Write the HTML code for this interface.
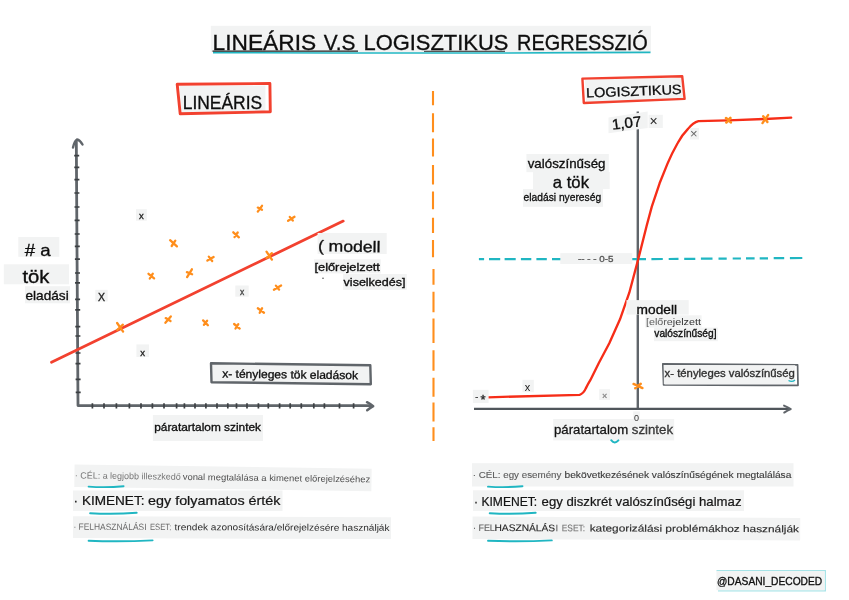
<!DOCTYPE html>
<html lang="hu"><head><meta charset="utf-8"><title>Lineáris v.s logisztikus regresszió</title>
<style>
html,body{margin:0;padding:0;background:#fff;}
body{width:849px;height:600px;overflow:hidden;position:relative;}
svg{position:absolute;left:0;top:0;display:block;}
text{font-family:"Liberation Sans",sans-serif;fill:#0e0e0e;stroke:#0e0e0e;stroke-width:0.32px;}
.bg{fill:#f2f3f3;}
</style></head><body>
<svg width="849" height="600" viewBox="0 0 849 600">
<rect class="bg" x="210.8" y="25.8" width="440.2" height="26.4" />
<text font-size="22" y="50.1"><tspan x="212.6" textLength="103.5" lengthAdjust="spacingAndGlyphs">LINEÁRIS</tspan> <tspan x="323.7" textLength="31.7" lengthAdjust="spacingAndGlyphs">V.S</tspan> <tspan x="363.5" textLength="144.9" lengthAdjust="spacingAndGlyphs">LOGISZTIKUS</tspan> <tspan x="517.1" textLength="130.6" lengthAdjust="spacingAndGlyphs">REGRESSZIÓ</tspan></text>
<path d="M213 52.6Q430 53.6 650.5 52.4" stroke="#20b6c2" stroke-width="1.6" fill="none"/>
<path d="M212.5 51.1H358M424 51.2H505" stroke="#222" stroke-width="1.05"/>
<path d="M433.0 91.0V105.3M433.0 113.2V132.2M433.0 138.6V156.6M433.0 164.9V184.5M433.0 191.5V209.2M433.0 217.7V233.0M433.0 240.0V257.3M433.5 268.9V284.7M433.5 291.7V312.2M433.5 318.6V343.0M433.5 350.2V370.8M433.5 377.8V396.8M433.5 402.5V421.5M433.5 427.2V441.1" stroke="#ff8e1c" stroke-width="2.1" fill="none"/>
<path d="M179.4 86L265.4 85.6V112.3L181.5 112.8Z" fill="#f2f3f3"/>
<path d="M177.2 84.3L269.9 83.5L270.3 111.8L180.2 113.8Z" fill="none" stroke="#f2412f" stroke-width="2.9" stroke-linejoin="round"/>
<text x="182.7" y="108.5" font-size="18" textLength="79.5" lengthAdjust="spacingAndGlyphs" >LINEÁRIS</text>
<path d="M73 147.5Q74.5 141 77 139.5Q80 140 82.5 144.5" stroke="#60656a" stroke-width="2.4" fill="none" stroke-linecap="round"/>
<path d="M76.3 140L78 405.6H372" stroke="#60656a" stroke-width="2.8" fill="none" stroke-linejoin="round"/>
<path d="M367 402.2Q370.5 404 373.2 406.2Q370.5 407.8 367.2 410.2" stroke="#60656a" stroke-width="2.5" fill="none" stroke-linecap="round" stroke-linejoin="round"/>
<path d="M74.2 155.6h5M74.3 167.4h5M74.4 179.6h5M74.4 193.0h5M74.5 207.0h5M74.6 220.4h5M74.7 234.0h5M74.8 246.4h5M74.9 259.2h5M75.0 273.0h5M75.0 282.8h5M75.1 299.3h5M75.2 309.8h5M75.3 326.6h5M75.4 336.0h5M75.5 353.0h5M75.5 363.6h5M75.6 379.4h5M75.7 392.4h5" stroke="#3c4043" stroke-width="1.7"/>
<path d="M92.4 403.2v5.4M104.0 403.2v5.4M116.4 403.2v5.4M129.4 403.2v5.4M141.0 403.2v5.4M152.4 403.2v5.4M164.0 403.2v5.4M176.6 403.2v5.4M184.4 403.2v5.4M195.0 403.2v5.4M205.9 403.2v5.4M217.0 403.2v5.4M227.8 403.2v5.4M236.5 403.2v5.4M247.0 403.2v5.4M258.4 403.2v5.4M268.3 403.2v5.4M279.6 403.2v5.4M290.2 403.2v5.4M301.3 403.2v5.4M313.8 403.2v5.4M324.4 403.2v5.4M339.5 403.2v5.4M353.6 403.2v5.4" stroke="#3c4043" stroke-width="1.7"/>
<path d="M51.5 362.2L343.2 221.1" stroke="#f2412f" stroke-width="2.8" stroke-linecap="round"/>
<path d="M257.8 211.6L262.0 205.8M257.8 207.6L262.0 209.8" stroke="#ff8e1c" stroke-width="2.3" stroke-linecap="round" fill="none"/>
<path d="M288.1 220.8L294.5 216.8M289.8 217.0L292.8 220.6" stroke="#ff8e1c" stroke-width="2.3" stroke-linecap="round" fill="none"/>
<path d="M233.3 232.3L238.9 237.3M237.7 232.5L234.5 237.1" stroke="#ff8e1c" stroke-width="2.3" stroke-linecap="round" fill="none"/>
<path d="M170.1 240.2L176.9 246.4M175.3 240.6L171.7 246.0" stroke="#ff8e1c" stroke-width="2.3" stroke-linecap="round" fill="none"/>
<path d="M207.4 260.6L213.6 257.0M208.8 256.6L212.2 261.0" stroke="#ff8e1c" stroke-width="2.3" stroke-linecap="round" fill="none"/>
<path d="M266.5 251.6L271.9 259.6M271.9 253.2L266.5 258.0" stroke="#ff8e1c" stroke-width="2.3" stroke-linecap="round" fill="none"/>
<path d="M187.1 277.1L191.9 269.3M186.9 272.1L192.1 274.3" stroke="#ff8e1c" stroke-width="2.3" stroke-linecap="round" fill="none"/>
<path d="M148.5 273.8L154.1 278.4M152.8 273.7L149.8 278.5" stroke="#ff8e1c" stroke-width="2.3" stroke-linecap="round" fill="none"/>
<path d="M273.9 289.7L281.1 285.5M275.9 285.6L279.1 289.6" stroke="#ff8e1c" stroke-width="2.3" stroke-linecap="round" fill="none"/>
<path d="M257.8 308.3L264.0 312.7M262.1 308.2L259.7 312.8" stroke="#ff8e1c" stroke-width="2.3" stroke-linecap="round" fill="none"/>
<path d="M165.4 322.8L170.8 316.4M165.7 318.1L170.5 321.1" stroke="#ff8e1c" stroke-width="2.3" stroke-linecap="round" fill="none"/>
<path d="M203.1 320.4L207.9 325.2M207.1 320.7L203.9 324.9" stroke="#ff8e1c" stroke-width="2.3" stroke-linecap="round" fill="none"/>
<path d="M234.1 324.0L239.7 328.6M238.3 324.1L235.5 328.5" stroke="#ff8e1c" stroke-width="2.3" stroke-linecap="round" fill="none"/>
<path d="M117.1 323.0L123.1 331.6M122.9 324.7L117.3 329.9" stroke="#ff8e1c" stroke-width="2.3" stroke-linecap="round" fill="none"/>
<rect x="136.0" y="209.2" width="10.8" height="11.5" fill="#f2f3f3"/>
<text x="141.4" y="219.3" font-size="9.5" text-anchor="middle" style="fill:#222;stroke:#222">x</text>
<rect x="95.3" y="289.8" width="12.4" height="11.7" fill="#f2f3f3"/>
<text x="101.5" y="300.6" font-size="10.5" text-anchor="middle" style="fill:#222;stroke:#222">X</text>
<rect x="235.3" y="285.5" width="13.4" height="11.2" fill="#f2f3f3"/>
<text x="242.0" y="294.9" font-size="8.5" text-anchor="middle" style="fill:#444;stroke:#444">x</text>
<rect x="136.4" y="344.4" width="12.6" height="12.6" fill="#f2f3f3"/>
<text x="142.7" y="355.6" font-size="9.5" text-anchor="middle" style="fill:#222;stroke:#222">x</text>
<rect class="bg" x="18.3" y="237.0" width="41.0" height="19.8" />
<text x="24.8" y="255.6" font-size="16.5" textLength="25.9" lengthAdjust="spacingAndGlyphs" ># a</text>
<rect class="bg" x="3.8" y="264.3" width="65.2" height="20.0" />
<text x="22.5" y="282.8" font-size="17.5" textLength="27.0" lengthAdjust="spacingAndGlyphs" >tök</text>
<rect class="bg" x="25.0" y="286.2" width="45.0" height="17.1" />
<text x="25.5" y="300.0" font-size="13" textLength="43.2" lengthAdjust="spacingAndGlyphs" >eladási</text>
<rect class="bg" x="317.6" y="233.0" width="69.1" height="21.0" />
<text x="317.9" y="251.2" font-size="15.6" textLength="62.5" lengthAdjust="spacingAndGlyphs" transform="rotate(1.0 317.9 251.2)" >( modell</text>
<rect class="bg" x="314.0" y="259.3" width="66.8" height="14.1" />
<text x="314.5" y="270.6" font-size="10.8" textLength="65.4" lengthAdjust="spacingAndGlyphs" >[előrejelzett</text>
<rect class="bg" x="343.0" y="274.0" width="63.8" height="15.9" />
<text x="343.6" y="286.4" font-size="10.8" textLength="61.9" lengthAdjust="spacingAndGlyphs" >viselkedés]</text>
<circle cx="323" cy="278.3" r="0.7" fill="#333"/>
<path d="M211 363.3L370.3 365.2L370.8 384.3L211.5 382.2Z" fill="#f2f3f3" stroke="#60656a" stroke-width="2.4" stroke-linejoin="round"/>
<text x="222.2" y="377.6" font-size="11.5" textLength="135.8" lengthAdjust="spacingAndGlyphs" transform="rotate(0.7 222.2 377.6)" >x- tényleges tök eladások</text>
<rect class="bg" x="152.9" y="415.0" width="110.1" height="26.0" />
<text x="154.2" y="431.0" font-size="11.2" textLength="106.8" lengthAdjust="spacingAndGlyphs" >páratartalom szintek</text>
<g transform="rotate(0.8 74 478)">
<rect class="bg" x="74.4" y="464.5" width="297.1" height="22.5" />
<text font-size="9" y="478.3" ><tspan x="74.8" textLength="106.0" lengthAdjust="spacingAndGlyphs" style="fill:#757575;stroke:#757575;stroke-width:0px">· CÉL: a legjobb illeszkedő</tspan> <tspan x="182.7" textLength="187.6" lengthAdjust="spacingAndGlyphs" style="fill:#505050;stroke:#505050;stroke-width:0px">vonal megtalálása a kimenet előrejelzéséhez</tspan></text>
</g>
<rect class="bg" x="73.0" y="490.5" width="209.5" height="20.5" />
<text font-size="12.8" y="505.3" ><tspan x="73.6" textLength="70.9" lengthAdjust="spacingAndGlyphs" style="fill:#141414;stroke:#141414;stroke-width:0.22px">· KIMENET:</tspan> <tspan x="148.0" textLength="132.5" lengthAdjust="spacingAndGlyphs" style="fill:#161616;stroke:#161616;stroke-width:0.22px">egy folyamatos érték</tspan></text>
<g transform="rotate(0.2 73 530)">
<rect class="bg" x="73.0" y="516.2" width="318.0" height="21.8" />
<text font-size="9.2" y="529.8" ><tspan x="73.4" textLength="73.1" lengthAdjust="spacingAndGlyphs" style="fill:#6a6a6a;stroke:#6a6a6a;stroke-width:0px">· FELHASZNÁLÁSI</tspan> <tspan x="150.0" textLength="21.3" lengthAdjust="spacingAndGlyphs" style="fill:#6a6a6a;stroke:#6a6a6a;stroke-width:0px">ESET:</tspan> <tspan x="174.5" textLength="215.0" lengthAdjust="spacingAndGlyphs" style="fill:#2a2a2a;stroke:#2a2a2a;stroke-width:0px">trendek azonosítására/előrejelzésére használják</tspan></text>
</g>
<path d="M88.6 486.6Q106.1 487.8 123.6 486.20000000000005" stroke="#20b6c2" stroke-width="1.9" fill="none" stroke-linecap="round"/>
<path d="M90.1 513.2Q113.39999999999999 514.4000000000001 136.7 512.8000000000001" stroke="#20b6c2" stroke-width="1.9" fill="none" stroke-linecap="round"/>
<path d="M88.6 540.8Q120.6 542.0 152.6 540.4" stroke="#20b6c2" stroke-width="1.9" fill="none" stroke-linecap="round"/>
<path d="M585 79.8L683 77.2L684.6 98.6L586 102.4Z" fill="#f2f3f3"/>
<path d="M582.4 78.6L682.2 76.2L684.6 98.9L583.8 103Z" fill="none" stroke="#f2412f" stroke-width="2.4" stroke-linejoin="round"/>
<text x="586.3" y="97.6" font-size="13.5" textLength="95.5" lengthAdjust="spacingAndGlyphs" transform="rotate(-2.2 586.3 97.6)" >LOGISZTIKUS</text>
<path d="M637.8 111.5V408.5" stroke="#60656a" stroke-width="2.4"/>
<path d="M474 408.9H789" stroke="#50565b" stroke-width="2.1"/>
<path d="M784 405.6Q788 407.4 790.8 409Q787.4 410.4 784.2 412.6" stroke="#60656a" stroke-width="1.9" fill="none" stroke-linecap="round" stroke-linejoin="round"/>
<path d="M478.9 259.2L484.1 259.2M489.0 259.2L500.2 259.2M504.6 259.2L515.7 259.2M520.9 259.2L531.3 259.2M536.4 259.2L546.8 259.2M552.0 259.2L562.0 259.2M630.0 259.2L646.0 259.2M651.4 259.1L662.8 259.0M668.7 259.0L678.5 258.9M684.2 258.9L695.3 258.8M700.9 258.7L712.5 258.7M718.5 258.6L726.7 258.6M732.7 258.5L740.9 258.5M746.0 258.4L754.6 258.4M759.7 258.3L768.0 258.3M773.7 258.2L784.2 258.1M789.9 258.1L802.3 258.0" stroke="#20b6c2" stroke-width="2.2" fill="none"/>
<rect class="bg" x="560.3" y="253.1" width="72.0" height="10.9" />
<text x="577.9" y="262.0" font-size="9" textLength="35.5" lengthAdjust="spacingAndGlyphs" style="fill:#555;stroke:#555" >-- - - 0-5</text>
<path d="M488 397.3L579.6 394.8Q583.6 393.6 585.8 388.4Q588 384 590.3 380.2L598.7 363.3L609.3 343.3L620 319.3L629.3 292.7L638.8 257L646.6 226L651.8 206.6L659.6 183.3L667.4 163.9Q672 153 677.7 143Q682 135 688 128.9Q693 122.5 698.5 121.1L728.3 120.3L765.3 119L791.2 117.7" stroke="#f62d18" stroke-width="2.35" fill="none" stroke-linejoin="round" stroke-linecap="round"/>
<path d="M608.5 117.4L647.7 111.6V128L608.5 133.3Z" fill="#f2f3f3"/>
<text x="612.4" y="129.8" font-size="14.8" textLength="29.8" lengthAdjust="spacingAndGlyphs" transform="rotate(-6.7 612.4 129.8)" >1,07</text>
<rect class="bg" x="648.6" y="114.8" width="14.2" height="13.2" />
<text x="653.6" y="126.3" font-size="14" text-anchor="middle" style="fill:#2a2a2a;stroke:none">×</text>
<rect class="bg" x="690.0" y="128.0" width="9.0" height="11.5" />
<text x="693.9" y="137.5" font-size="13" text-anchor="middle" style="fill:#666;stroke:none">×</text>
<path d="M726.0 118.1L730.8 122.3M726.4 122.4L730.4 118.0" stroke="#ff8e1c" stroke-width="2.7" stroke-linecap="round" fill="none"/>
<path d="M762.5 123.1L768.1 115.1M763.2 116.2L767.4 122.0" stroke="#ff8e1c" stroke-width="2.4" stroke-linecap="round" fill="none"/>
<path d="M633.5 383.9L642.5 388.1M635.2 388.3L640.8 383.7" stroke="#ff8e1c" stroke-width="2.4" stroke-linecap="round" fill="none"/>
<rect class="bg" x="526.4" y="154.0" width="82.4" height="18.2" />
<text x="527.7" y="167.7" font-size="13.5" textLength="77.8" lengthAdjust="spacingAndGlyphs" >valószínűség</text>
<rect class="bg" x="533.0" y="172.0" width="76.7" height="17.1" />
<text x="552.8" y="187.8" font-size="16.5" textLength="36.2" lengthAdjust="spacingAndGlyphs" >a tök</text>
<rect class="bg" x="523.0" y="189.0" width="80.0" height="17.8" />
<text x="523.6" y="201.3" font-size="11.5" textLength="77.5" lengthAdjust="spacingAndGlyphs" >eladási nyereség</text>
<rect class="bg" x="626.5" y="300.1" width="62.2" height="14.5" />
<text x="636.6" y="314.0" font-size="12.3" textLength="40.4" lengthAdjust="spacingAndGlyphs" >modell</text>
<rect class="bg" x="645.3" y="315.3" width="56.3" height="12.3" />
<defs><linearGradient id="g1" gradientUnits="userSpaceOnUse" x1="645" y1="0" x2="702" y2="0"><stop offset="0" stop-color="#5c5c5c"/><stop offset="0.4" stop-color="#606060"/><stop offset="0.5" stop-color="#333"/><stop offset="1" stop-color="#333"/></linearGradient></defs>
<text font-size="9.6" x="645.9" y="325" textLength="55.1" lengthAdjust="spacingAndGlyphs" style="fill:url(#g1);stroke:none">[előrejelzett</text>
<rect class="bg" x="654.0" y="327.6" width="63.8" height="13.6" />
<text x="654.3" y="336.9" font-size="10" textLength="62.2" lengthAdjust="spacingAndGlyphs" >valószínűség]</text>
<path d="M662.8 363.8L797.6 364.8L798 385.4L663.6 385Z" fill="#fff" stroke="#60656a" stroke-width="1.7" stroke-linejoin="round"/>
<rect class="bg" x="663.8" y="365.2" width="131.4" height="18.8" />
<text x="664.6" y="376.5" font-size="10" textLength="130.3" lengthAdjust="spacingAndGlyphs" style="fill:#303030;stroke:#303030" >x- tényleges valószínűség</text>
<path d="M788.5 380.5Q792 382.5 795 380" stroke="#20b6c2" stroke-width="1.4" fill="none"/>
<rect class="bg" x="472.9" y="389.8" width="15.7" height="13.2" />
<text x="475.2" y="400.0" font-size="9" style="fill:#333;stroke:#333" >-</text>
<text x="480.4" y="403.6" font-size="13" style="fill:#222;stroke:#222" >*</text>
<rect class="bg" x="522.5" y="379.8" width="11.3" height="12.4" />
<text x="527.6" y="391" font-size="11" text-anchor="middle" style="fill:#222;stroke:none">x</text>
<rect x="599.2" y="389.2" width="10.8" height="10.8" fill="#f2f3f3"/>
<text x="604.6" y="398.6" font-size="9" text-anchor="middle" style="fill:#888;stroke:#888">×</text>
<rect class="bg" x="553.2" y="419.0" width="121.0" height="21.4" />
<defs><linearGradient id="g2" gradientUnits="userSpaceOnUse" x1="553" y1="0" x2="675" y2="0"><stop offset="0" stop-color="#111"/><stop offset="0.6" stop-color="#111"/><stop offset="0.68" stop-color="#4a4a4a"/><stop offset="1" stop-color="#444"/></linearGradient></defs>
<text font-size="13.2" x="554" y="434" textLength="119" lengthAdjust="spacingAndGlyphs" style="fill:url(#g2);stroke:#222;stroke-width:0.3px">páratartalom szintek</text>
<rect class="bg" x="633.2" y="411.4" width="6.6" height="10.0" />
<text x="636.5" y="420.6" font-size="9" text-anchor="middle" style="fill:#333;stroke:none">0</text>
<path d="M611.2 440.2Q614.6 444.6 618.4 440.4" stroke="#20b6c2" stroke-width="2" fill="none" stroke-linecap="round"/>
<rect class="bg" x="472.0" y="463.2" width="321.5" height="23.3" />
<text font-size="9.2" y="477.5" ><tspan x="472.7" textLength="88.8" lengthAdjust="spacingAndGlyphs" style="fill:#5c5c5c;stroke:#5c5c5c;stroke-width:0.12px">· CÉL: egy esemény</tspan> <tspan x="564.5" textLength="226.9" lengthAdjust="spacingAndGlyphs" style="fill:#3a3a3a;stroke:#3a3a3a;stroke-width:0.12px">bekövetkezésének valószínűségének megtalálása</tspan></text>
<rect class="bg" x="473.0" y="490.3" width="271.0" height="20.7" />
<text font-size="12.8" y="505.7" ><tspan x="474.0" textLength="63.2" lengthAdjust="spacingAndGlyphs" style="fill:#141414;stroke:#141414;stroke-width:0.22px">· KIMENET:</tspan> <tspan x="541.6" textLength="199.9" lengthAdjust="spacingAndGlyphs" style="fill:#161616;stroke:#161616;stroke-width:0.22px">egy diszkrét valószínűségi halmaz</tspan></text>
<g transform="rotate(0.25 473 531)">
<rect class="bg" x="472.5" y="516.5" width="327.7" height="22.5" />
<text font-size="9.5" y="530.9" ><tspan x="473.0" textLength="21.5" lengthAdjust="spacingAndGlyphs" style="fill:#666;stroke:#666;stroke-width:0.15px">· FEL</tspan> <tspan x="494.5" textLength="60.5" lengthAdjust="spacingAndGlyphs" style="fill:#2a2a2a;stroke:#2a2a2a;stroke-width:0.15px">HASZNÁLÁS</tspan> <tspan x="555.4" textLength="2.6" lengthAdjust="spacingAndGlyphs" style="fill:#666;stroke:#666;stroke-width:0.15px">I</tspan> <tspan x="561.8" textLength="23.2" lengthAdjust="spacingAndGlyphs" style="fill:#777;stroke:#777;stroke-width:0.15px">ESET:</tspan> <tspan x="589.7" textLength="209.3" lengthAdjust="spacingAndGlyphs" style="fill:#2e2e2e;stroke:#2e2e2e;stroke-width:0.15px">kategorizálási problémákhoz használják</tspan></text>
</g>
<path d="M488 486.6Q505.25 487.8 522.5 486.20000000000005" stroke="#20b6c2" stroke-width="1.9" fill="none" stroke-linecap="round"/>
<path d="M489.7 513.2Q512.7 514.4000000000001 535.7 512.8000000000001" stroke="#20b6c2" stroke-width="1.9" fill="none" stroke-linecap="round"/>
<path d="M488 540.8Q519.9 542.0 551.8 540.4" stroke="#20b6c2" stroke-width="1.9" fill="none" stroke-linecap="round"/>
<path d="M716.5 570.6H825.3V590.8H718" stroke="#a5e3e7" stroke-width="1.3" fill="none"/>
<rect class="bg" x="716.4" y="571.2" width="108.2" height="19.0" />
<text x="717.0" y="584.5" font-size="11" textLength="105.2" lengthAdjust="spacingAndGlyphs" >@DASANI_DECODED</text>
</svg></body></html>
